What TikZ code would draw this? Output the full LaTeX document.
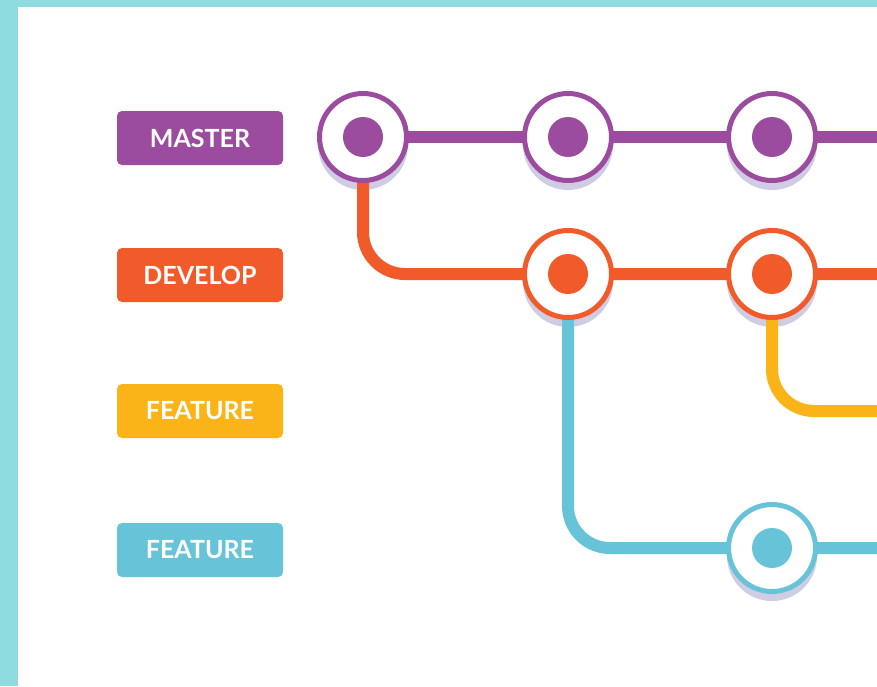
\documentclass[tikz,border=0pt]{standalone}
\usepackage{fontspec}
\setmainfont{Lato}
\usetikzlibrary{calc}
\definecolor{cpurple}{HTML}{9B4C9F}
\definecolor{corange}{HTML}{F15A29}
\definecolor{cyellow}{HTML}{FBB417}
\definecolor{cblue}{HTML}{67C4D8}
\definecolor{cframe}{HTML}{8FDCE0}
\definecolor{cshadow}{HTML}{CFCDE3}
\pgfdeclarelayer{bglayer}
\pgfdeclarelayer{shadowlayer}
\pgfdeclarelayer{linelayer}
\pgfsetlayers{bglayer,shadowlayer,linelayer,main}
\tikzset{
  tag/.style={fill=#1, rounded corners=5pt, minimum width=166pt, minimum height=54pt,
    inner sep=0pt, text=white, font=\fontsize{25}{25}\selectfont\bfseries},
  commit/.style={circle, draw=#1, fill=white, line width=5pt, minimum size=87pt, inner sep=0pt,
    path picture={\fill[#1] (path picture bounding box.center) circle (20pt);}},
  branch/.style={draw=#1, line width=12pt, rounded corners=42pt}
}
\begin{document}
\begin{tikzpicture}[x=1pt,y=-1pt]
\useasboundingbox (0,0) rectangle (877,686);
\begin{pgfonlayer}{bglayer}
\fill[cframe] (0,0) rectangle (877,686);
\fill[white] (18,7) rectangle (877,686);
\end{pgfonlayer}
% labels
\node[tag=cpurple] (lmaster) at (200,138) {MASTER};
\node[tag=corange] (ldevelop) at (200,275) {DEVELOP};
\node[tag=cyellow] (lfeat1) at (200,411) {FEATURE};
\node[tag=cblue] (lfeat2) at (200,550) {FEATURE};
% commits
\node[commit=cpurple] (m1) at (363,137) {};
\node[commit=cpurple] (m2) at (568,137) {};
\node[commit=cpurple] (m3) at (772,137) {};
\node[commit=corange] (d1) at (568,274) {};
\node[commit=corange] (d2) at (772,274) {};
\node[commit=cblue] (b1) at (772,548) {};
\coordinate (mend) at (890,137);
\coordinate (dend) at (890,274);
\coordinate (yend) at (890,411);
\coordinate (bend) at (890,548);
% shadows
\begin{pgfonlayer}{shadowlayer}
\clip (18,7) rectangle (877,686);
\foreach \n in {m1,m2,m3,d1,d2,b1}
  \fill[cshadow] ([yshift=-8pt]\n.center) circle (45pt);
\end{pgfonlayer}
% branches
\begin{pgfonlayer}{linelayer}
\clip (18,7) rectangle (877,686);
\draw[branch=cpurple] (m1.center) -- (m2.center) -- (m3.center) -- (mend);
\draw[branch=corange] (m1.center) |- (d1.center) -- (d2.center) -- (dend);
\draw[branch=cyellow] (d2.center) |- (yend);
\draw[branch=cblue] (d1.center) |- (b1.center) -- (bend);
\end{pgfonlayer}
\end{tikzpicture}
\end{document}
